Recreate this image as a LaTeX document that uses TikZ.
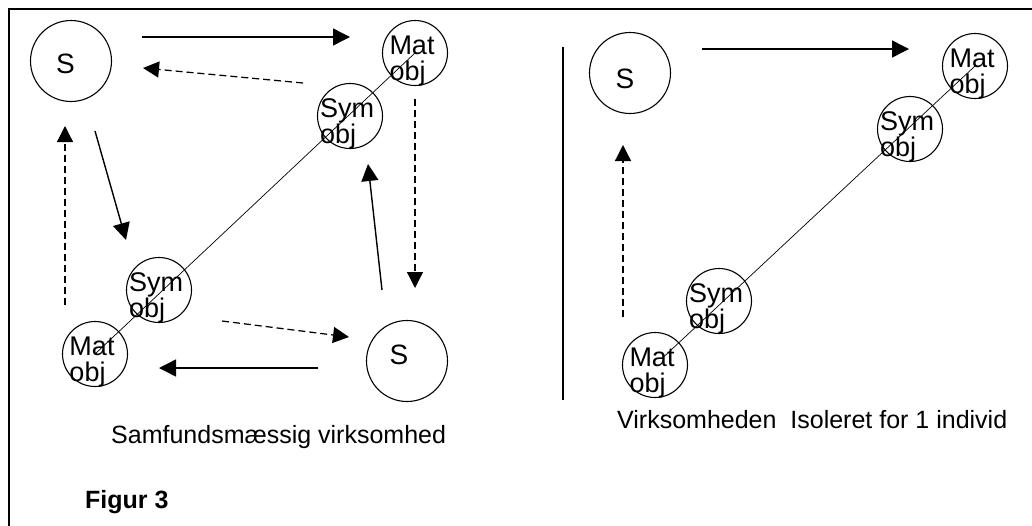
\documentclass[tikz,border=0pt]{standalone}
\usepackage{fontspec}
\setmainfont{Liberation Sans}
\usetikzlibrary{arrows.meta}
\begin{document}
\begin{tikzpicture}[x=1pt,y=-1pt,
  bigfont/.style={font=\fontsize{25}{26}\selectfont},
  objfont/.style={font=\fontsize{27}{26}\selectfont},
  subj/.style 2 args={circle, draw, line width=1.1pt, minimum size=81pt, inner sep=0pt,
    label={[font=\fontsize{28}{28}\selectfont, inner sep=0pt, xshift=#1, yshift=#2]center:S}},
  obj/.style={circle, draw, line width=1.1pt, minimum size=65pt, inner sep=0pt,
    label={[objfont, align=left, inner sep=0pt, xshift=-3pt, yshift=-8pt]center:#1}},
  solidarrow/.style={line width=1.4pt, -{Triangle[length=17pt,width=17pt]}},
  dasharrow/.style={line width=1.25pt, dash pattern=on 7pt off 4pt, -{Triangle[length=16pt,width=16pt]}},
  diag/.style={line width=0.7pt},
  caption/.style={bigfont, anchor=base west, inner sep=0pt}
]
\useasboundingbox (0,0) rectangle (1032,525);
% frame
\draw[line width=2pt] (9,526) -- (9,9) -- (1034,9);

% ---------- left diagram ----------
\node[subj={-5.5pt}{-3pt}] (s1) at (71,61) {};
\node[obj={Mat\\obj}] (mat1) at (415,53) {};
\node[obj={Sym\\obj}] (sym1) at (350,116) {};
\node[obj={Sym\\obj}] (sym2) at (159,290) {};
\node[obj={Mat\\obj}] (mat2) at (95,354) {};
\node[subj={-8pt}{6pt}] (s2) at (407,361) {};

\draw[diag] (mat1.center) -- (mat2.center);

\coordinate (a1s) at (142,37);  \coordinate (a1e) at (350,37);
\coordinate (a2s) at (303,83);  \coordinate (a2e) at (143,68);
\coordinate (a3s) at (95,131);  \coordinate (a3e) at (126,240);
\coordinate (a4s) at (65,305);  \coordinate (a4e) at (65,126);
\coordinate (a5s) at (415,99);  \coordinate (a5e) at (415,288);
\coordinate (a6s) at (382,290); \coordinate (a6e) at (368,164);
\coordinate (a7s) at (222,321); \coordinate (a7e) at (349,337);
\coordinate (a8s) at (318,368); \coordinate (a8e) at (159,368);

\draw[solidarrow] (a1s) -- (a1e);
\draw[dasharrow] (a2s) -- (a2e);
\draw[solidarrow] (a3s) -- (a3e);
\draw[dasharrow] (a4s) -- (a4e);
\draw[dasharrow] (a5s) -- (a5e);
\draw[solidarrow] (a6s) -- (a6e);
\draw[dasharrow] (a7s) -- (a7e);
\draw[solidarrow] (a8s) -- (a8e);

\node[caption] (cap1) at (111,443) {Samfundsmæssig virksomhed};
\node[caption, font=\fontsize{25}{26}\selectfont\bfseries] (fig) at (85,508) {Figur 3};

% ---------- separator ----------
\coordinate (sept) at (563,47);
\coordinate (sepb) at (563,400);
\draw[line width=2.5pt] (sept) -- (sepb);

% ---------- right diagram ----------
\node[subj={-5pt}{-6pt}] (s3) at (630,73) {};
\node[obj={Mat\\obj}] (mat3) at (975,66) {};
\node[obj={Sym\\obj}] (sym3) at (910,129) {};
\node[obj={Sym\\obj}] (sym4) at (719,301) {};
\node[obj={Mat\\obj}] (mat4) at (655,365) {};

\draw[diag, shorten >=10pt] (mat3.center) -- (mat4.center);

\coordinate (b1s) at (702,49);  \coordinate (b1e) at (909,49);
\coordinate (b2s) at (623,317); \coordinate (b2e) at (623,145);
\draw[solidarrow] (b1s) -- (b1e);
\draw[dasharrow] (b2s) -- (b2e);

\node[caption] (cap2) at (617,428) {Virksomheden\ \ Isoleret for 1 individ};
\end{tikzpicture}
\end{document}
